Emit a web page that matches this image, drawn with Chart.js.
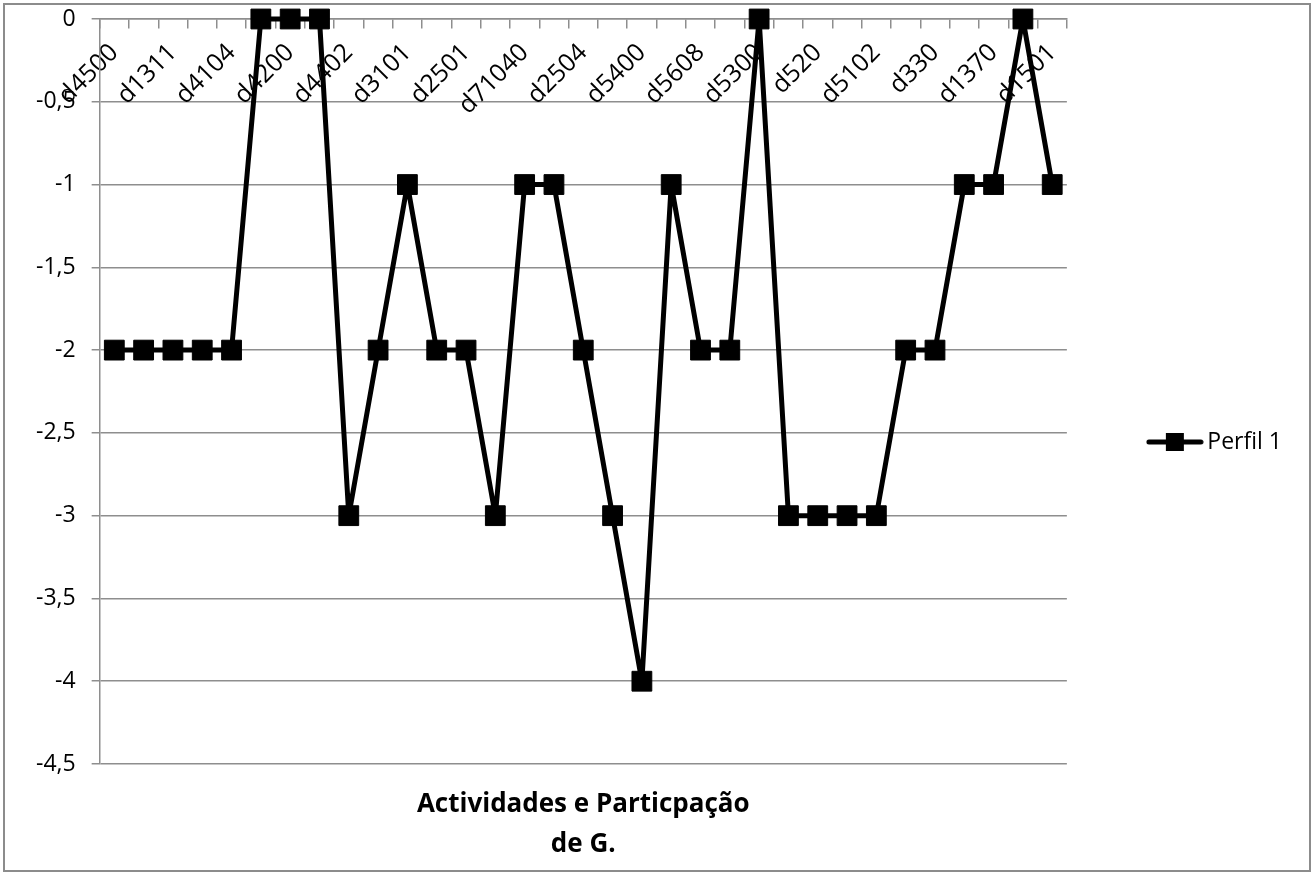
<!DOCTYPE html>
<html>
<head>
<meta charset="utf-8">
<script src="https://cdn.jsdelivr.net/npm/chart.js@4.4.1/dist/chart.umd.min.js"></script>
<style>
  html, body { margin: 0; padding: 0; background: #ffffff; }
  #wrap { width: 1314px; height: 873px; position: relative; }
</style>
</head>
<body>
<div id="wrap"><canvas id="c" width="1314" height="873"></canvas></div>
<script>
// ---- data ----
const categories = [
  'd4500', '', 'd1311', '', 'd4104', '', 'd4200', '', 'd4402', '', 'd3101', '',
  'd2501', '', 'd71040', '', 'd2504', '', 'd5400', '', 'd5608', '', 'd5300', '',
  'd520', '', 'd5102', '', 'd330', '', 'd1370', '', 'd1501'
];
const perfil1 = [
  -2, -2, -2, -2, -2, 0, 0, 0, -3, -2, -1, -2, -2, -3, -1, -1, -2,
  -3, -4, -1, -2, -2, 0, -3, -3, -3, -3, -2, -2, -1, -1, 0, -1
];
const yTickValues = [0, -0.5, -1, -1.5, -2, -2.5, -3, -3.5, -4, -4.5];
const seriesName = 'Perfil 1';
const titleLines = ['Actividades e Particpação', 'de G.'];

// ---- styling ----
const FONT = '"Open Sans", "Noto Sans", "Liberation Sans", sans-serif';
const GRID = '#8e8e8e';

// legend symbol: line with square marker
const legendSymbol = document.createElement('canvas');
legendSymbol.width = 58; legendSymbol.height = 22;
(function () {
  const g = legendSymbol.getContext('2d');
  g.strokeStyle = '#000'; g.lineWidth = 5; g.lineCap = 'round';
  g.beginPath(); g.moveTo(3, 11); g.lineTo(55, 11); g.stroke();
  g.fillStyle = '#000'; g.fillRect(20, 2, 18, 18);
})();

const frame = {
  id: 'frame',
  beforeDraw(chart) {
    const ctx = chart.ctx;
    ctx.save();
    ctx.fillStyle = '#ffffff';
    ctx.fillRect(0, 0, chart.width, chart.height);
    ctx.restore();
  },
  afterDraw(chart) {
    const ctx = chart.ctx;
    ctx.save();
    ctx.strokeStyle = '#8c8c8c';
    ctx.lineWidth = 2;
    ctx.strokeRect(4, 4, chart.width - 8, chart.height - 6);
    ctx.restore();
  }
};

new Chart(document.getElementById('c'), {
  type: 'line',
  data: {
    labels: categories,
    datasets: [{
      label: seriesName,
      data: perfil1,
      borderColor: '#000000',
      backgroundColor: '#000000',
      borderWidth: 5,
      borderJoinStyle: 'round',
      tension: 0,
      pointStyle: 'rect',
      pointRadius: 14,
      pointHoverRadius: 14,
      pointBackgroundColor: '#000000',
      pointBorderColor: '#000000',
      pointBorderWidth: 1,
      clip: false
    }]
  },
  options: {
    responsive: false,
    animation: false,
    events: [],
    layout: { autoPadding: false, padding: { left: 20, right: 22, top: 19, bottom: 8 } },
    plugins: {
      tooltip: { enabled: false },
      legend: {
        display: true,
        position: 'right',
        labels: {
          usePointStyle: true,
          pointStyle: legendSymbol,
          pointStyleWidth: 42,
          padding: 87,
          color: '#000000',
          font: { family: FONT, size: 23 }
        }
      },
      title: {
        display: true,
        position: 'bottom',
        fullSize: false,
        text: titleLines,
        color: '#000000',
        font: { family: FONT, size: 26, weight: 'bold', lineHeight: '40px' },
        padding: { top: 21, bottom: 0 }
      }
    },
    scales: {
      x: {
        type: 'category',
        position: { y: 0 },
        offset: true,
        grid: {
          display: true,
          drawOnChartArea: false,
          drawTicks: true,
          tickLength: 9,
          offset: true,
          color: GRID,
          lineWidth: 1.5
        },
        border: { display: true, color: GRID, width: 1.5 },
        ticks: {
          autoSkip: false,
          minRotation: 45,
          maxRotation: 45,
          padding: 10,
          color: '#000000',
          font: { family: FONT, size: 25 }
        }
      },
      y: {
        type: 'linear',
        min: -4.5,
        max: 0,
        afterBuildTicks(scale) {
          scale.ticks = yTickValues.map(v => ({ value: v }));
        },
        grid: {
          color: GRID,
          lineWidth: 1.5,
          drawTicks: true,
          tickLength: 8
        },
        border: { display: true, color: GRID, width: 1.5 },
        ticks: {
          padding: 16,
          color: '#000000',
          font: { family: FONT, size: 23, lineHeight: 0.2 },
          callback(v) {
            return String(Math.round(v * 10) / 10).replace('.', ',');
          }
        }
      }
    }
  },
  plugins: [frame]
});
</script>
</body>
</html>
